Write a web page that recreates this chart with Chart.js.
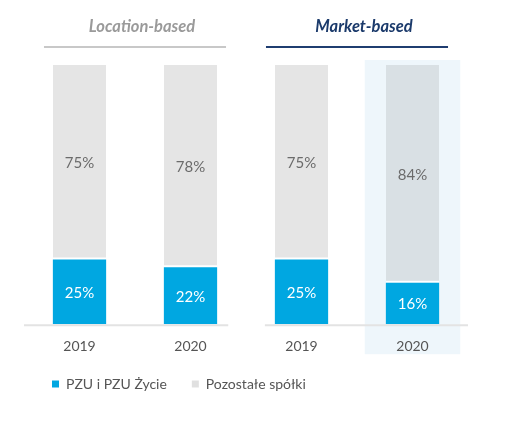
<!DOCTYPE html>
<html>
<head>
<meta charset="utf-8">
<script src="https://cdn.jsdelivr.net/npm/chart.js@4/dist/chart.umd.min.js"></script>
<style>
html,body{margin:0;padding:0;background:#fff;}
#wrap{width:520px;height:435px;position:relative;}
</style>
</head>
<body>
<div id="wrap"><canvas id="c" width="520" height="435"></canvas></div>
<script>
const categories = ['2019', '2020', '2019', '2020'];
const groupTitles = ['Location-based', 'Market-based'];
const seriesNames = ['PZU i PZU Życie', 'Pozostałe spółki'];
const pzuValues = [25, 22, 25, 16];
const otherValues = [75, 78, 75, 84];

const BLUE = '#00a7e1';
const GRAY = '#e5e5e5';
const GRAY_HL = '#d9e0e4';
const FONT = 'Lato, "Open Sans", sans-serif';

const overlayPlugin = {
  id: 'overlay',
  beforeDraw(chart) {
    const ctx = chart.ctx;
    const x = chart.scales.x;
    const area = chart.chartArea;
    const catW = x.getPixelForValue(1) - x.getPixelForValue(0);
    const cx = x.getPixelForValue(3);
    ctx.save();
    ctx.fillStyle = '#eef6fb';
    ctx.fillRect(cx - catW * 0.43, area.top - 5, catW * 0.86, area.bottom - area.top + 35);
    ctx.restore();
  },
  afterDatasetsDraw(chart) {
    const ctx = chart.ctx;
    const x = chart.scales.x;
    const area = chart.chartArea;
    const catW = x.getPixelForValue(1) - x.getPixelForValue(0);
    const x0 = x.getPixelForValue(0), x1 = x.getPixelForValue(1);
    const x2 = x.getPixelForValue(2), x3 = x.getPixelForValue(3);
    ctx.save();
    ctx.strokeStyle = '#e3e3e3';
    ctx.lineWidth = 2;
    ctx.beginPath();
    ctx.moveTo(x.left, area.bottom + 1);
    ctx.lineTo(x1 + catW * 0.34, area.bottom + 1);
    ctx.moveTo(x2 - catW * 0.33, area.bottom + 1);
    ctx.lineTo(x.right, area.bottom + 1);
    ctx.stroke();
    const groups = [
      {c: (x0 + x1) / 2, color: '#9a9a9a', line: '#c8c8c8', t: groupTitles[0]},
      {c: (x2 + x3) / 2, color: '#1b3a6b', line: '#1f3d70', t: groupTitles[1]}
    ];
    groups.forEach(g => {
      ctx.strokeStyle = g.line;
      ctx.lineWidth = 2;
      ctx.beginPath();
      ctx.moveTo(g.c - catW * 0.82, 47);
      ctx.lineTo(g.c + catW * 0.82, 47);
      ctx.stroke();
      ctx.fillStyle = g.color;
      ctx.font = 'italic bold 16.5px ' + FONT;
      ctx.textAlign = 'center';
      ctx.textBaseline = 'middle';
      ctx.fillText(g.t, g.c + 7, 27);
    });
    ctx.font = '15px ' + FONT;
    ctx.textAlign = 'center';
    ctx.textBaseline = 'middle';
    chart.data.datasets.forEach((ds, di) => {
      const meta = chart.getDatasetMeta(di);
      meta.data.forEach((el, i) => {
        const p = el.getProps(['x', 'y', 'base'], true);
        ctx.fillStyle = di === 0 ? '#ffffff' : '#6b6b6b';
        ctx.fillText(ds.data[i] + '%', p.x, (p.y + p.base) / 2 + 1);
      });
    });
    ctx.restore();
  },
  afterLayout(chart) {
    if (chart.legend) { chart.legend.left += 3; chart.legend.top -= 17; }
  }
};

new Chart(document.getElementById('c'), {
  type: 'bar',
  data: {
    labels: categories,
    datasets: [
      {
        label: seriesNames[0],
        data: pzuValues,
        backgroundColor: BLUE,
        borderWidth: 0
      },
      {
        label: seriesNames[1],
        data: otherValues,
        backgroundColor: otherValues.map((v, i) => i === 3 ? GRAY_HL : GRAY),
        borderColor: '#ffffff',
        borderWidth: {top: 0, left: 0, right: 0, bottom: 2},
        borderSkipped: false
      }
    ]
  },
  options: {
    responsive: false,
    animation: false,
    devicePixelRatio: 1,
    layout: {padding: {top: 65, left: 24, right: 52, bottom: 17}},
    datasets: {bar: {categoryPercentage: 1, barPercentage: 0.48}},
    scales: {
      x: {
        stacked: true,
        grid: {display: false, drawTicks: false},
        border: {display: false},
        ticks: {color: '#555', font: {family: FONT, size: 14}, padding: 14}
      },
      y: {
        stacked: true,
        display: false,
        min: 0,
        max: 100
      }
    },
    plugins: {
      legend: {
        position: 'bottom',
        align: 'start',
        labels: {
          boxWidth: 7,
          boxHeight: 7,
          padding: 25,
          color: '#555',
          font: {family: FONT, size: 14},
          generateLabels(chart) {
            return chart.data.datasets.map((ds, i) => ({
              text: ds.label,
              fillStyle: i === 0 ? BLUE : '#e0e0e0',
              strokeStyle: 'rgba(0,0,0,0)',
              lineWidth: 0,
              hidden: false,
              datasetIndex: i,
              fontColor: '#555'
            }));
          }
        }
      },
      tooltip: {enabled: false}
    }
  },
  plugins: [overlayPlugin]
});
</script>
</body>
</html>
